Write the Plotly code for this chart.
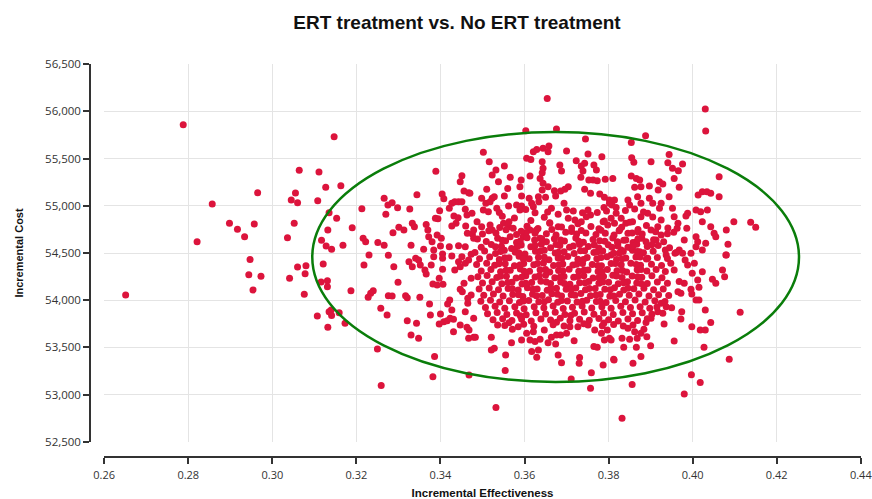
import plotly.graph_objects as go

# ---- scattered / outer simulation points ----
outer_effect = [
    0.2788, 0.3064, 0.3111, 0.3127, 0.2965, 0.3055, 0.3045, 0.3060,
    0.3108, 0.2857, 0.2898, 0.2917, 0.2957, 0.2934, 0.3052, 0.3036,
    0.2821, 0.3117, 0.3128, 0.3132, 0.3135, 0.2947, 0.2944, 0.2973,
    0.2954, 0.2651, 0.3041, 0.3060, 0.3080, 0.3078, 0.3076, 0.3121,
    0.3116, 0.3131, 0.3131, 0.3107, 0.3132, 0.3135, 0.3147, 0.3163,
    0.3153, 0.3141, 0.3168, 0.3190, 0.3213, 0.3216, 0.3222, 0.3230,
    0.3251, 0.3266, 0.3270, 0.3275, 0.3285, 0.3298, 0.3266, 0.3276,
    0.3287, 0.3301, 0.3313, 0.3327, 0.3344, 0.3333, 0.3338, 0.3330,
    0.3341, 0.3366, 0.3370, 0.3372, 0.3380, 0.3360, 0.3389, 0.3404,
    0.3408, 0.3388, 0.3394, 0.3398, 0.3392, 0.3402, 0.3400, 0.3384,
    0.3384, 0.3421, 0.3427, 0.3434, 0.3443, 0.3451, 0.3451, 0.3447,
    0.3456, 0.3467, 0.3432, 0.3442, 0.3437, 0.3427, 0.3459, 0.3463,
    0.3475, 0.3460, 0.3464, 0.3476, 0.3479, 0.3421, 0.3443, 0.3459,
    0.3405, 0.3427, 0.3451, 0.3473, 0.3187, 0.3140, 0.3141, 0.3159,
    0.3173, 0.3218, 0.3289, 0.3299, 0.3240, 0.3234, 0.3228, 0.3276,
    0.3285, 0.3317, 0.3321, 0.3351, 0.3258, 0.3273, 0.3321, 0.3343,
    0.3330, 0.3348, 0.3250, 0.3259, 0.3386, 0.3382, 0.3468, 0.3325,
    0.3333, 0.3348, 0.3352, 0.3363, 0.3366, 0.3378, 0.3405, 0.3405,
    0.3397, 0.3382, 0.3392, 0.3406, 0.3374, 0.3376, 0.3400, 0.3417,
    0.3422, 0.3427, 0.3397, 0.3408, 0.3416, 0.3423, 0.3431, 0.3431,
    0.3447, 0.3463, 0.3468, 0.3479, 0.3459, 0.3465, 0.3465, 0.3473,
    0.3447, 0.3452, 0.3456, 0.3473, 0.3467, 0.3479, 0.3434, 0.3443,
    0.3459, 0.3467, 0.3447, 0.3654, 0.3603, 0.3676, 0.3745, 0.3502,
    0.3516, 0.3552, 0.3621, 0.3629, 0.3644, 0.3658, 0.3656, 0.3605,
    0.3615, 0.3642, 0.3700, 0.3751, 0.3784, 0.3684, 0.3688, 0.3723,
    0.3735, 0.3743, 0.3739, 0.3765, 0.3771, 0.3734, 0.3753, 0.3763,
    0.3773, 0.3792, 0.3810, 0.3743, 0.3757, 0.3779, 0.3790, 0.3802,
    0.3814, 0.3789, 0.3808, 0.3818, 0.3751, 0.3757, 0.3644, 0.3642,
    0.3637, 0.3644, 0.3642, 0.3656, 0.3671, 0.3674, 0.3686, 0.3704,
    0.3696, 0.3613, 0.3592, 0.3589, 0.3593, 0.3566, 0.3560, 0.3552,
    0.3538, 0.3532, 0.3523, 0.3510, 0.3498, 0.3523, 0.3528, 0.3508,
    0.3518, 0.3534, 0.3514, 0.3502, 0.3470, 0.3562, 0.3581, 0.3593,
    0.3589, 0.3611, 0.3617, 0.3621, 0.3633, 0.3650, 0.3634, 0.3664,
    0.3694, 0.3647, 0.3660, 0.3680, 0.3704, 0.3720, 0.3735, 0.3747,
    0.3787, 0.3798, 0.3814, 0.3487, 0.3479, 0.3498, 0.3518, 0.3523,
    0.3550, 0.3562, 0.3573, 0.3566, 0.3597, 0.3613, 0.3625, 0.3637,
    0.3532, 0.3711, 0.3757, 0.3759, 0.3787, 0.3813, 0.3731, 0.3730,
    0.3680, 0.3688, 0.3629, 0.3617, 0.3633, 0.3555, 0.3554, 0.3521,
    0.3528, 0.3521, 0.3536, 0.3569, 0.3593, 0.3613, 0.3625, 0.3637,
    0.3656, 0.3674, 0.3718, 0.3765, 0.3773, 0.3790, 0.3802, 0.3571,
    0.3585, 0.3605, 0.3621, 0.3647, 0.3664, 0.3676, 0.3686, 0.3708,
    0.3700, 0.3767, 0.3783, 0.3797, 0.3751, 0.3727, 0.3483, 0.4030,
    0.4031, 0.3888, 0.3854, 0.3944, 0.3855, 0.3860, 0.3901, 0.3941,
    0.3952, 0.3966, 0.3976, 0.3956, 0.4063, 0.4063, 0.3854, 0.3866,
    0.3874, 0.3862, 0.3877, 0.3897, 0.3921, 0.3929, 0.3918, 0.3968,
    0.4013, 0.4023, 0.4034, 0.4043, 0.3944, 0.3846, 0.3869, 0.3897,
    0.3905, 0.3925, 0.3921, 0.3952, 0.3956, 0.3988, 0.3984, 0.4008,
    0.4019, 0.4035, 0.4023, 0.4043, 0.4051, 0.4055, 0.4098, 0.4138,
    0.4150, 0.4080, 0.4084, 0.4080, 0.3963, 0.3986, 0.3980, 0.4008,
    0.4012, 0.4008, 0.4031, 0.4023, 0.3996, 0.3976, 0.3968, 0.3958,
    0.3935, 0.3893, 0.3802, 0.3818, 0.3806, 0.3830, 0.3850, 0.3877,
    0.3893, 0.3877, 0.3857, 0.3841, 0.3826, 0.3846, 0.3869, 0.3901,
    0.3917, 0.3925, 0.3913, 0.3889, 0.3866, 0.3841, 0.3822, 0.3830,
    0.3854, 0.3874, 0.3806, 0.3832, 0.3980, 0.4018, 0.3997, 0.4087,
    0.3856, 0.3812, 0.3858, 0.3877, 0.4027, 0.4113, 0.3836, 0.3866,
    0.3900, 0.3956, 0.4018, 0.4030, 0.4043, 0.3998, 0.3972, 0.3974,
    0.4030, 0.3932, 0.3891, 0.3877, 0.3868, 0.3850, 0.3832, 0.3806,
    0.3884, 0.3862, 0.3846, 0.3889, 0.3901, 0.3917, 0.3929, 0.3937,
    0.3925, 0.4079, 0.4071, 0.4076, 0.4047, 0.4055, 0.4023, 0.4012,
    0.4015, 0.3996, 0.4008, 0.4015, 0.3998, 0.3972, 0.3965, 0.3980,
    0.3968, 0.3999, 0.3988, 0.4004, 0.3982, 0.3956, 0.3948, 0.3937,
]
outer_cost = [
    55858, 55375, 55357, 55195, 55138, 55135, 55061, 55032,
    55053, 55019, 54814, 54751, 54807, 54673, 54814, 54662,
    54620, 54634, 54574, 54743, 54927, 54430, 54270, 54253,
    54108, 54056, 54232, 54352, 54366, 54281, 54063, 54384,
    54193, 54207, 54143, 53833, 53714, 53879, 55731, 55212,
    54867, 54539, 54581, 54768, 54969, 54656, 54620, 54479,
    54610, 55079, 54910, 55008, 55032, 54979, 54581, 54476,
    54715, 54772, 54743, 54966, 55117, 54814, 54778, 54581,
    54444, 54803, 54743, 54673, 54620, 54539, 55365, 55124,
    55075, 54867, 54863, 54948, 54690, 54655, 54574, 54532,
    54461, 54973, 55026, 55043, 55043, 55043, 55318, 55255,
    55156, 55138, 54892, 54874, 54814, 54786, 54962, 54902,
    54920, 54786, 54708, 54701, 54655, 54567, 54577, 54567,
    54490, 54468, 54461, 54486, 54100, 53897, 53837, 53868,
    53756, 54373, 54355, 54190, 54101, 54073, 54031, 54048,
    54045, 54048, 54027, 54031, 53915, 53844, 53784, 53756,
    53632, 53597, 53484, 53096, 53403, 53191, 53209, 54408,
    54355, 54426, 54373, 54320, 54278, 54373, 54444, 54328,
    54232, 54172, 54161, 54169, 53960, 53844, 53855, 53960,
    54003, 53897, 53749, 53773, 53784, 53808, 53798, 53667,
    53738, 53714, 53685, 53808, 53879, 53968, 54021, 54056,
    54116, 54090, 54180, 54232, 53597, 53608, 54320, 54408,
    54391, 54426, 54355, 56137, 55794, 55812, 55706, 55566,
    55466, 55421, 55572, 55597, 55608, 55632, 55572, 55502,
    55491, 55466, 55579, 55548, 55519, 55431, 55368, 55477,
    55421, 55449, 55368, 55431, 55378, 55301, 55273, 55273,
    55265, 55280, 55290, 55174, 55132, 55124, 55089, 55061,
    55061, 54983, 55008, 54920, 54955, 54902, 55396, 55350,
    55290, 55238, 55167, 55202, 55159, 55103, 55156, 55202,
    55174, 55315, 55273, 55202, 55103, 55301, 55184, 55103,
    55255, 55378, 55325, 55174, 55079, 55079, 55096, 55026,
    55043, 54973, 54937, 54955, 55132, 54997, 55008, 54997,
    54955, 55079, 55026, 54990, 55096, 55089, 55043, 54973,
    55026, 54878, 54814, 54778, 54867, 54849, 54831, 54884,
    54831, 54796, 54814, 54831, 54743, 54778, 54796, 54743,
    54814, 54778, 54761, 54673, 54673, 54743, 54708, 54655,
    52863, 53167, 53068, 53233, 53315, 53368, 53393, 53333,
    53421, 53339, 53396, 53456, 53474, 53421, 53255, 53474,
    53491, 53608, 53738, 53551, 53579, 53579, 53562, 53587,
    53551, 53537, 53572, 53509, 53502, 53579, 53597, 53693,
    53720, 53650, 53667, 53685, 53608, 53632, 53632, 53720,
    53650, 53685, 53650, 53685, 53738, 53720, 53608, 56024,
    55791, 55741, 55671, 55544, 55508, 55460, 55466, 55456,
    55396, 55371, 55442, 55290, 55307, 55096, 55315, 55290,
    55273, 55195, 55202, 55209, 55255, 55230, 55167, 55195,
    55114, 55149, 55149, 55132, 55096, 55061, 55096, 55079,
    55026, 55026, 54973, 54973, 54884, 54920, 54892, 54955,
    54937, 54955, 54831, 54778, 54708, 54673, 54831, 54825,
    54772, 54743, 54592, 54479, 54761, 54761, 54638, 54673,
    54620, 54567, 54603, 54532, 54497, 54497, 54532, 54497,
    54532, 54444, 55026, 54983, 54867, 54867, 55008, 55026,
    54920, 54884, 54831, 54814, 54743, 54708, 54726, 54743,
    54778, 54690, 54638, 54620, 54620, 54638, 54603, 54532,
    54550, 54514, 54479, 52751, 53008, 53128, 53212, 53375,
    53107, 53375, 53333, 53403, 53502, 53873, 53502, 53502,
    53519, 53569, 53685, 53685, 53763, 53720, 53802, 53879,
    53897, 53749, 53614, 53650, 53597, 53587, 53597, 53579,
    53693, 53667, 53703, 53763, 53808, 53879, 53862, 53932,
    53968, 54479, 54320, 54249, 54222, 54180, 54302, 54214,
    54137, 54116, 54003, 54003, 54066, 54073, 54090, 54180,
    54197, 54285, 54373, 54391, 54426, 54320, 54391, 54479,
]

# ---- dense core of the cloud (estimated, overlapping points) ----
core_effect = [
    0.3488, 0.3509, 0.3536, 0.3555, 0.3581, 0.3606, 0.3624, 0.3652, 0.3671, 0.3695, 0.3722, 0.3740, 0.3763, 0.3791, 0.3810, 0.3836, 0.3858, 0.3879, 0.3907, 0.3931,
    0.3497, 0.3521, 0.3545, 0.3569, 0.3592, 0.3615, 0.3640, 0.3662, 0.3684, 0.3707, 0.3731, 0.3752, 0.3777, 0.3799, 0.3822, 0.3846, 0.3867, 0.3892, 0.3918, 0.3945,
    0.3482, 0.3505, 0.3531, 0.3552, 0.3578, 0.3601, 0.3626, 0.3647, 0.3673, 0.3694, 0.3718, 0.3743, 0.3765, 0.3786, 0.3812, 0.3835, 0.3857, 0.3883, 0.3906, 0.3961,
    0.3493, 0.3517, 0.3540, 0.3563, 0.3587, 0.3611, 0.3633, 0.3658, 0.3680, 0.3703, 0.3727, 0.3749, 0.3772, 0.3796, 0.3819, 0.3841, 0.3865, 0.3890, 0.3916, 0.3940,
    0.3486, 0.3510, 0.3529, 0.3554, 0.3576, 0.3598, 0.3622, 0.3645, 0.3669, 0.3691, 0.3715, 0.3738, 0.3761, 0.3783, 0.3806, 0.3830, 0.3853, 0.3876, 0.3902, 0.3926,
    0.3497, 0.3520, 0.3543, 0.3566, 0.3590, 0.3612, 0.3637, 0.3660, 0.3681, 0.3706, 0.3729, 0.3751, 0.3775, 0.3797, 0.3820, 0.3843, 0.3868, 0.3891, 0.3913, 0.3935,
    0.3489, 0.3511, 0.3534, 0.3557, 0.3580, 0.3603, 0.3625, 0.3650, 0.3672, 0.3694, 0.3717, 0.3741, 0.3763, 0.3788, 0.3810, 0.3832, 0.3856, 0.3879, 0.3903, 0.3927,
    0.3500, 0.3523, 0.3546, 0.3570, 0.3594, 0.3617, 0.3639, 0.3662, 0.3686, 0.3708, 0.3731, 0.3753, 0.3777, 0.3800, 0.3823, 0.3845, 0.3867, 0.3892, 0.3916, 0.3940,
    0.3492, 0.3516, 0.3538, 0.3561, 0.3585, 0.3607, 0.3630, 0.3654, 0.3676, 0.3699, 0.3722, 0.3745, 0.3768, 0.3791, 0.3814, 0.3836, 0.3860, 0.3884, 0.3907, 0.3930,
    0.3503, 0.3526, 0.3549, 0.3572, 0.3596, 0.3619, 0.3642, 0.3665, 0.3688, 0.3711, 0.3734, 0.3757, 0.3780, 0.3803, 0.3826, 0.3849, 0.3872, 0.3896, 0.3919, 0.3943,
    0.3496, 0.3519, 0.3541, 0.3564, 0.3588, 0.3610, 0.3634, 0.3657, 0.3679, 0.3702, 0.3725, 0.3748, 0.3771, 0.3794, 0.3817, 0.3840, 0.3863, 0.3887, 0.3910, 0.3934,
    0.3507, 0.3530, 0.3553, 0.3577, 0.3599, 0.3623, 0.3646, 0.3668, 0.3692, 0.3714, 0.3737, 0.3760, 0.3784, 0.3806, 0.3829, 0.3852, 0.3875, 0.3898, 0.3915, 0.3950,
    0.3512, 0.3535, 0.3558, 0.3581, 0.3604, 0.3627, 0.3650, 0.3673, 0.3696, 0.3719, 0.3742, 0.3765, 0.3788, 0.3811, 0.3834, 0.3857, 0.3880, 0.3903, 0.3590, 0.3710,
    0.3525, 0.3548, 0.3570, 0.3593, 0.3616, 0.3639, 0.3662, 0.3685, 0.3708, 0.3731, 0.3754, 0.3777, 0.3800, 0.3823, 0.3846, 0.3869, 0.3892, 0.3563, 0.3676, 0.3789,
    0.3553, 0.3598, 0.3622, 0.3668, 0.3694, 0.3741, 0.3785, 0.3812, 0.3835, 0.3858,
    0.3500, 0.3532, 0.3581, 0.3604, 0.3652, 0.3675, 0.3698, 0.3724, 0.3746, 0.3770, 0.3792, 0.3813, 0.3856, 0.3880, 0.3940,
    0.3541, 0.3606, 0.3632, 0.3688, 0.3712, 0.3758, 0.3777, 0.3831, 0.3890, 0.3941,
    0.3547, 0.3576, 0.3625, 0.3680, 0.3716, 0.3773, 0.3840, 0.3905,
]
core_cost = [
    54648, 54622, 54655, 54630, 54610, 54662, 54638, 54620, 54650, 54628, 54660, 54615, 54642, 54625, 54658, 54634, 54612, 54655, 54640, 54620,
    54560, 54590, 54572, 54548, 54585, 54566, 54592, 54555, 54580, 54562, 54590, 54570, 54552, 54588, 54575, 54560, 54593, 54568, 54580, 54556,
    54505, 54522, 54495, 54530, 54508, 54490, 54518, 54528, 54500, 54512, 54495, 54525, 54506, 54520, 54498, 54515, 54530, 54502, 54518, 54505,
    54440, 54458, 54432, 54450, 54465, 54438, 54455, 54428, 54447, 54462, 54435, 54452, 54440, 54460, 54430, 54448, 54458, 54436, 54452, 54443,
    54378, 54392, 54370, 54385, 54365, 54390, 54375, 54395, 54368, 54383, 54372, 54390, 54378, 54364, 54388, 54375, 54392, 54370, 54382, 54368,
    54310, 54325, 54302, 54318, 54330, 54306, 54322, 54300, 54315, 54328, 54308, 54320, 54305, 54326, 54312, 54298, 54322, 54310, 54326, 54304,
    54248, 54262, 54240, 54255, 54236, 54260, 54245, 54265, 54238, 54252, 54242, 54258, 54235, 54250, 54264, 54240, 54256, 54244, 54260, 54238,
    54182, 54195, 54175, 54190, 54172, 54188, 54200, 54178, 54192, 54170, 54186, 54198, 54180, 54190, 54174, 54195, 54183, 54176, 54192, 54180,
    54118, 54130, 54112, 54125, 54108, 54132, 54120, 54105, 54128, 54115, 54130, 54110, 54124, 54116, 54132, 54108, 54122, 54126, 54112, 54120,
    54052, 54066, 54045, 54060, 54040, 54062, 54050, 54068, 54044, 54058, 54070, 54048, 54060, 54042, 54064, 54052, 54066, 54046, 54058, 54050,
    53988, 54000, 53980, 53995, 53975, 53998, 53985, 54004, 53978, 53992, 53982, 54000, 53986, 53975, 53996, 53984, 54002, 53980, 53994, 53986,
    53922, 53935, 53915, 53930, 53910, 53932, 53920, 53938, 53912, 53926, 53940, 53918, 53930, 53914, 53936, 53922, 53932, 53916, 53928, 53920,
    53858, 53870, 53850, 53865, 53845, 53868, 53855, 53872, 53848, 53862, 53875, 53852, 53866, 53850, 53870, 53858, 53868, 53852, 53835, 53838,
    53792, 53805, 53785, 53800, 53780, 53802, 53790, 53808, 53784, 53798, 53788, 53806, 53792, 53780, 53800, 53786, 53804, 53762, 53768, 53758,
    53732, 53745, 53725, 53740, 53728, 53750, 53730, 53742, 53726, 53738,
    54700, 54712, 54695, 54718, 54705, 54690, 54720, 54700, 54712, 54695, 54708, 54690, 54712, 54700, 54705,
    54770, 54782, 54760, 54775, 54765, 54780, 54758, 54772, 54790, 54764,
    54890, 54870, 54925, 54910, 54945, 54930, 54950, 54880,
]

# ---- a few more points in the gaps of the core ----
fill_effect = [
    0.3547, 0.3590, 0.3641, 0.3686, 0.3729, 0.3779, 0.3821, 0.3870,
    0.3531, 0.3583, 0.3625, 0.3675, 0.3716, 0.3766, 0.3808, 0.3858, 0.3903,
    0.3543, 0.3587, 0.3638, 0.3681, 0.3733, 0.3773, 0.3825, 0.3868,
    0.3553, 0.3597, 0.3647, 0.3689, 0.3740, 0.3782, 0.3832, 0.3875,
    0.3539, 0.3589, 0.3631, 0.3682, 0.3724, 0.3774, 0.3816, 0.3866,
    0.3556, 0.3599, 0.3650, 0.3691, 0.3742, 0.3784, 0.3833, 0.3877,
    0.3543, 0.3593, 0.3635, 0.3685, 0.3727, 0.3777, 0.3819, 0.3869,
    0.3560, 0.3603, 0.3652, 0.3695, 0.3744, 0.3786, 0.3836, 0.3877,
    0.3571, 0.3620, 0.3663, 0.3712, 0.3754, 0.3804, 0.3846,
    0.3586, 0.3628, 0.3678, 0.3720, 0.3770, 0.3812,
    0.3597, 0.3647, 0.3688, 0.3738, 0.3780,
    0.3515, 0.3556, 0.3592, 0.3628, 0.3665, 0.3712, 0.3735, 0.3782, 0.3825, 0.3870,
    0.3912, 0.3955, 0.3563, 0.3615, 0.3660, 0.3727, 0.3790, 0.3850, 0.3925, 0.3965,
    0.3540, 0.3603, 0.3655, 0.3700, 0.3738, 0.3795, 0.3862, 0.3883,
]
fill_cost = [
    54635, 54628, 54652, 54638, 54625, 54630, 54620, 54650,
    54565, 54570, 54580, 54590, 54575, 54586, 54560, 54574, 54588,
    54515, 54500, 54520, 54508, 54525, 54512, 54498, 54515,
    54450, 54438, 54455, 54445, 54432, 54452, 54440, 54458,
    54385, 54372, 54390, 54376, 54382, 54368, 54388, 54378,
    54318, 54308, 54325, 54312, 54320, 54300, 54316, 54325,
    54255, 54244, 54258, 54246, 54250, 54240, 54256, 54248,
    54188, 54180, 54192, 54178, 54184, 54194, 54186, 54176,
    54122, 54115, 54128, 54118, 54125, 54112, 54126,
    54058, 54048, 54062, 54052, 54056, 54046,
    53992, 53984, 53996, 53988, 53990,
    54735, 54745, 54730, 54740, 54750, 54728, 54738, 54742, 54735, 54748,
    54725, 54720, 54830, 54845, 54820, 54810, 54840, 54825, 54850, 54815,
    54930, 54960, 54935, 54955, 54925, 54945, 54965, 54935,
]

effectiveness = outer_effect + core_effect + fill_effect
cost = outer_cost + core_cost + fill_cost

x_tick_values = [0.26, 0.28, 0.30, 0.32, 0.34, 0.36, 0.38, 0.40, 0.42, 0.44]
y_tick_values = [52500, 53000, 53500, 54000, 54500, 55000, 55500, 56000, 56500]

# confidence ellipse bounds (data units)
ellipse_effect = (0.3095, 0.4253)
ellipse_cost = (53135, 55780)

fig = go.Figure()
fig.add_trace(go.Scatter(
    x=effectiveness, y=cost, mode="markers",
    marker=dict(color="#DC143C", size=7, line=dict(width=0)),
    hoverinfo="skip", showlegend=False,
))
fig.add_shape(
    type="circle", xref="x", yref="y",
    x0=ellipse_effect[0], x1=ellipse_effect[1],
    y0=ellipse_cost[0], y1=ellipse_cost[1],
    line=dict(color="#0a7d0a", width=2.5), layer="above",
)

axis_col = "#333333"
plot_w = 872 - 90 - 11
fig.update_layout(
    width=872, height=499,
    margin=dict(l=90, r=11, t=64, b=42),
    plot_bgcolor="white", paper_bgcolor="white",
    title=dict(
        text="<b>ERT treatment vs. No ERT treatment</b>",
        xref="container", x=457 / 872, xanchor="center",
        yref="container", y=1 - 22 / 499, yanchor="middle",
        font=dict(family="Liberation Sans, Arial, sans-serif", size=19, color="#111111"),
    ),
)
fig.update_xaxes(
    range=[0.25995, 0.44005], domain=[14 / plot_w, 1],
    anchor="free", position=0,
    tickvals=x_tick_values, tickformat=".2f", ticklabeloverflow="allow",
    ticklabelstandoff=2,
    showgrid=True, gridcolor="#e4e4e4", gridwidth=1, zeroline=False,
    showline=True, linecolor=axis_col, linewidth=1.5,
    ticks="outside", ticklen=6, tickwidth=1.5, tickcolor=axis_col,
    tickfont=dict(family="Open Sans, sans-serif", size=11, color="#333333"),
    title=dict(text="<b>Incremental Effectiveness</b>", standoff=8,
               font=dict(family="Liberation Sans, Arial, sans-serif", size=11.5, color="#111111")),
    automargin=False,
)
fig.update_yaxes(
    range=[52499, 56501], domain=[15 / 393, 1],
    anchor="free", position=0,
    tickvals=y_tick_values, tickformat=",d", ticklabeloverflow="allow",
    showgrid=True, gridcolor="#e4e4e4", gridwidth=1, zeroline=False,
    showline=True, linecolor=axis_col, linewidth=1.5,
    ticks="outside", ticklen=6, tickwidth=1.5, tickcolor=axis_col,
    tickfont=dict(family="Open Sans, sans-serif", size=11.5, color="#333333"),
    title=dict(text="<b>Incremental Cost</b>", standoff=18,
               font=dict(family="Liberation Sans, Arial, sans-serif", size=11, color="#111111")),
    automargin=False,
)

fig.write_html("out.html", config={"displayModeBar": False})
